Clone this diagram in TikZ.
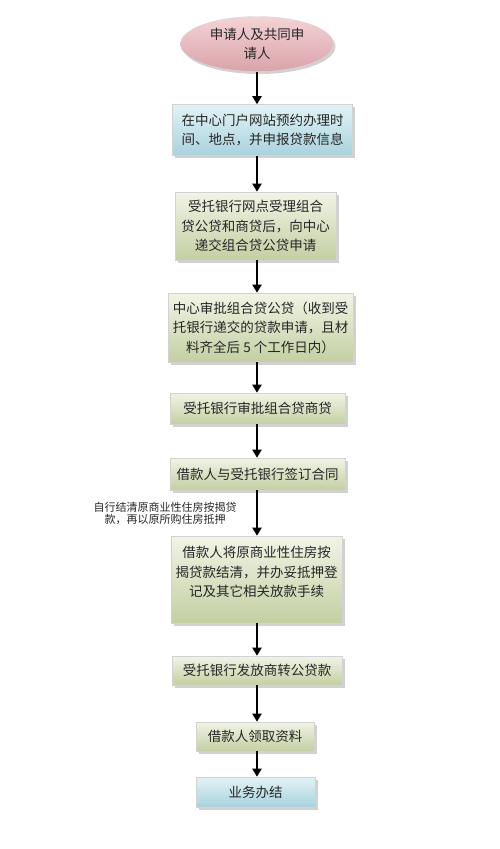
\documentclass[tikz,border=0pt]{standalone}
\usepackage{fontspec}
\setmainfont{Noto Sans CJK SC}
\usetikzlibrary{shapes.geometric,shadows,arrows.meta}

\definecolor{greenlo}{HTML}{C3CFA2}
\definecolor{greenhi}{HTML}{F1F4E6}
\definecolor{bluelo}{HTML}{A9D2DD}
\definecolor{bluehi}{HTML}{E2F3F6}
\definecolor{pinklo}{HTML}{D9A3AA}
\definecolor{pinkhi}{HTML}{F4D3D6}

\tikzset{
  stepbase/.style={rectangle,draw=gray!35,line width=0.6pt,align=center,inner sep=0pt,
    font=\fontsize{13.5}{19.5}\selectfont,text=black!85,
    drop shadow={shadow xshift=2.5pt,shadow yshift=-2.5pt,fill=gray!45,opacity=0.8}},
  greenbox/.style={stepbase,top color=greenhi,bottom color=greenlo},
  bluebox/.style={stepbase,top color=bluehi,bottom color=bluelo},
  startbox/.style={ellipse,draw=gray!30,inner sep=0pt,align=center,
    font=\fontsize{13.5}{19.5}\selectfont,text=black!85,
    top color=pinkhi,bottom color=pinklo,
    drop shadow={shadow xshift=2pt,shadow yshift=-2.5pt,fill=gray!45,opacity=0.8}},
  flow/.style={line width=2pt,-{Triangle[length=8pt,width=9pt]}},
}

\begin{document}
\begin{tikzpicture}[x=1pt,y=-1pt]
  \useasboundingbox (0,0) rectangle (500,849);
  \node[startbox,minimum width=153pt,minimum height=55pt] (start) at (257,44) {申请人及共同申\\请人};
  \node[bluebox,minimum width=180pt,minimum height=51pt] (apply) at (262.5,130) {在中心门户网站预约办理时\\间、地点，并申报贷款信息};
  \node[greenbox,minimum width=161pt,minimum height=68pt] (accept) at (255.5,226) {受托银行网点受理组合\\贷公贷和商贷后，向中心\\递交组合贷公贷申请};
  \node[greenbox,minimum width=185pt,minimum height=69pt] (approve) at (260.5,327.5) {中心审批组合贷公贷（收到受\\托银行递交的贷款申请，且材\\料齐全后 5 个工作日内）};
  \node[greenbox,minimum width=175pt,minimum height=31pt] (bank) at (257.5,408.5) {受托银行审批组合贷商贷};
  \node[greenbox,minimum width=175pt,minimum height=32pt] (sign) at (257.5,474) {借款人与受托银行签订合同};
  \node[greenbox,minimum width=171pt,minimum height=87pt,text depth=16pt] (settle) at (256.5,579.5) {借款人将原商业性住房按\\揭贷款结清，并办妥抵押登\\记及其它相关放款手续};
  \node[align=center,font=\fontsize{11}{12}\selectfont,text=black!85] (note) at (165,513) {自行结清原商业性住房按揭贷\\款，再以原所购住房抵押};
  \node[greenbox,minimum width=170pt,minimum height=29pt] (issue) at (257,670.5) {受托银行发放商转公贷款};
  \node[greenbox,minimum width=118pt,minimum height=29pt] (collect) at (255,736.5) {借款人领取资料};
  \node[bluebox,minimum width=119pt,minimum height=30pt] (done) at (255.5,792) {业务办结};
  \draw[flow] (start.south) -- (apply.north -| start);
  \draw[flow] (apply.south -| start) -- (accept.north -| start);
  \draw[flow] (accept.south -| start) -- (approve.north -| start);
  \draw[flow] (approve.south -| start) -- (bank.north -| start);
  \draw[flow] (bank.south -| start) -- (sign.north -| start);
  \draw[flow] (sign.south -| start) -- (settle.north -| start);
  \draw[flow] (settle.south -| start) -- (issue.north -| start);
  \draw[flow] (issue.south -| start) -- (collect.north -| start);
  \draw[flow] (collect.south -| start) -- (done.north -| start);
\end{tikzpicture}
\end{document}
